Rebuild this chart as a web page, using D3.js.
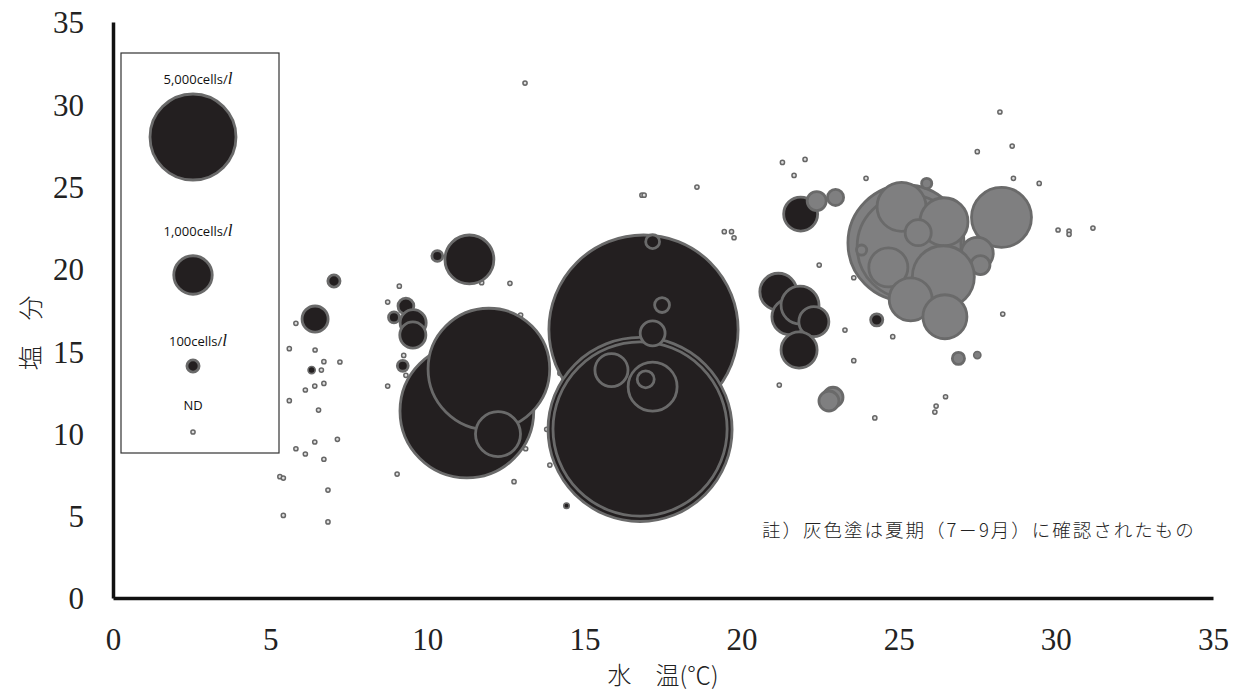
<!DOCTYPE html>
<html>
<head>
<meta charset="utf-8">
<script src="https://cdn.jsdelivr.net/npm/d3@7"></script>
<style>
  body{margin:0;background:#fff;}
  svg{display:block;}
</style>
</head>
<body>
<div id="chart"></div>
<script>
// cell counts (cells/l) by water temperature and salinity; summer=1 means gray fill (Jul-Sep)
const cellTemp=[6.43,7.03,6.32,9.32,8.94,9.55,9.54,9.22,10.32,11.34,11.26,11.96,12.25,
  16.88,16.77,16.77,17.17,17.47,17.17,15.86,17.17,16.95,14.43,
  21.88,21.17,21.54,21.86,22.3,21.83,24.3,
  25.23,25.33,25.09,26.44,25.62,28.27,27.5,27.6,24.67,26.42,25.38,26.47,25.89,23.82,26.9,27.5,22.91,22.78,22.39,22.99];
const cellSal=[16.95,19.26,13.85,17.74,17.05,16.73,15.98,14.11,20.78,20.57,11.36,13.91,9.96,
  16.31,10.24,10.27,21.65,17.8,16.08,13.85,12.84,13.29,5.61,
  23.33,18.61,17.09,17.8,16.79,15.07,16.9,
  21.57,21.35,23.77,22.86,22.2,23.13,20.94,20.23,20.09,19.52,18.15,17.09,25.19,21.14,14.56,14.76,12.2,11.97,24.12,24.34];
const cellCount=[460,100,35,170,80,460,460,80,80,1620,12100,10000,1370,
  24200,22900,20500,130,150,420,740,1620,195,20,
  780,925,880,975,610,880,100,
  9100,7300,1620,1560,460,2430,690,245,1030,2600,1250,1310,70,70,100,35,270,270,245,175];
const cellSummer=[0,0,0,0,0,0,0,0,0,0,0,0,0,
  0,0,0,0,0,0,0,0,0,0,
  0,0,0,0,0,0,0,
  1,1,1,1,1,1,1,1,1,1,1,1,1,1,1,1,1,1,1,1];

// not detected (ND) samples
const ndTemp=[5.82,5.61,6.43,6.71,7.22,6.63,6.42,6.12,6.71,5.61,6.54,6.42,7.14,5.82,6.12,6.71,5.31,5.42,6.84,5.42,6.84,
  9.11,8.74,9.25,9.32,8.74,9.04,12.63,11.73,12.97,10.43,10.43,13.51,13.13,13.8,13.9,12.76,14.22,13.11,
  19.45,19.68,19.76,17.74,17.64,17.99,18.54,16.77,16.98,17.36,18.59,13.5,18.96,19.26,16.27,16.24,14.49,15.97,15.83,16.27,15.28,15.49,15.86,
  18.58,16.83,16.9,21.3,22.02,21.67,23.96,27.5,28.61,28.65,29.47,22.47,23.57,23.29,24.81,23.57,28.31,21.2,26.49,
  28.22,30.07,30.42,30.42,31.18,24.24,26.19,26.15];
const ndSal=[16.69,15.15,15.07,14.36,14.34,13.85,12.88,12.64,13.04,11.99,11.42,9.48,9.64,9.07,8.75,8.43,7.37,7.29,6.56,5.02,4.62,
  18.95,17.98,14.74,13.53,12.88,7.53,19.12,19.16,17.19,15.35,13.85,13.99,9.07,10.25,8.08,7.07,13.65,31.29,
  22.26,22.26,21.89,21.45,20.9,20.9,20.9,20.37,20.57,20.49,19.22,14.05,13.95,13.95,14.42,13.44,13.14,12.54,11.58,11.26,8.93,8.18,5.29,
  24.97,24.48,24.48,26.47,26.65,25.68,25.5,27.12,27.46,25.5,25.19,20.23,19.46,16.28,15.88,14.42,17.25,12.94,12.23,
  29.53,22.36,22.3,22.1,22.48,10.94,11.66,11.3];

const xTicks=[0,5,10,15,20,25,30,35];
const yTicks=[0,5,10,15,20,25,30,35];
const legendCounts=[5000,1000,100];
const legendLabels=["5,000cells/","1,000cells/","100cells/"];

const w=1243, h=695;
const blackFill="#231f20", grayFill="#7f7f80", ringColor="#6a6a6a";

const xScale=d3.scaleLinear().domain([0,35]).range([113,1213]);
const yScale=d3.scaleLinear().domain([0,35]).range([598,22]);
const rScale=d3.scaleSqrt().domain([0,5000]).range([0,43]);

const svg=d3.select("#chart").append("svg").attr("width",w).attr("height",h);

const cells=cellTemp.map((t,i)=>({t:t,s:cellSal[i],n:cellCount[i],summer:cellSummer[i]}));
const nd=ndTemp.map((t,i)=>({t:t,s:ndSal[i]}));

// axes
const xAxis=d3.axisBottom(xScale).tickValues(xTicks).tickSize(0).tickPadding(30);
const yAxis=d3.axisLeft(yScale).tickValues(yTicks).tickSize(0).tickPadding(29);
const gx=svg.append("g").attr("transform","translate(0,598)").call(xAxis);
const gy=svg.append("g").attr("transform","translate(113,0)").call(yAxis);
[gx,gy].forEach(g=>{
  g.select(".domain").attr("stroke","#111").attr("stroke-width",3.5);
  g.selectAll("text").attr("fill","#222").style("font-family","'Liberation Serif','DejaVu Serif',serif").style("font-size","31px");
});
gx.selectAll("text").attr("dy","0.71em");
gy.selectAll("text").attr("dy","0.35em");

// ND points first
svg.append("g").selectAll("circle").data(nd).enter().append("circle")
  .attr("cx",d=>xScale(d.t)).attr("cy",d=>yScale(d.s)).attr("r",2.1)
  .attr("fill","#ddd").attr("stroke","#666").attr("stroke-width",1.5);

// bubbles
svg.append("g").selectAll("circle").data(cells).enter().append("circle")
  .attr("cx",d=>xScale(d.t)).attr("cy",d=>yScale(d.s)).attr("r",d=>rScale(d.n))
  .attr("fill",d=>d.summer?grayFill:blackFill)
  .attr("stroke",ringColor).attr("stroke-width",d=>rScale(d.n)<5?1.6:2.8);

// legend
const legend=svg.append("g");
legend.append("rect").attr("x",121).attr("y",53).attr("width",158).attr("height",400)
  .attr("fill","#fff").attr("stroke","#333").attr("stroke-width",1.2);
const legendY=[137,275,366];
const labelY=[84,236,346];
legendCounts.forEach((c,i)=>{
  legend.append("circle").attr("cx",193).attr("cy",legendY[i]).attr("r",rScale(c))
    .attr("fill",blackFill).attr("stroke",ringColor).attr("stroke-width",2.8);
  const t=legend.append("text").attr("x",198).attr("y",labelY[i]).attr("text-anchor","middle")
    .style("font-family","'Open Sans','Noto Sans',sans-serif").style("font-size","13px").attr("fill","#111");
  t.append("tspan").text(legendLabels[i]);
  t.append("tspan").text("l").style("font-family","'Liberation Serif',serif").style("font-style","italic").style("font-size","17px");
});
legend.append("text").attr("x",193).attr("y",410).attr("text-anchor","middle")
  .style("font-family","'Open Sans','Noto Sans',sans-serif").style("font-size","13px").attr("fill","#111").text("ND");
legend.append("circle").attr("cx",193).attr("cy",432).attr("r",2.1)
  .attr("fill","#ddd").attr("stroke","#666").attr("stroke-width",1.5);

// axis titles
const jp="'Noto Sans CJK JP','Noto Sans CJK SC',sans-serif";
svg.append("text").attr("x",663).attr("y",684).attr("text-anchor","middle")
  .style("font-family",jp).style("font-size","24px").style("font-weight","300").attr("fill","#222").text("水　温(℃)");
svg.append("text").attr("transform","translate(40,333) rotate(-90)").attr("text-anchor","middle")
  .style("font-family",jp).style("font-size","25px").style("font-weight","300").attr("fill","#222").text("塩　分");

// note
svg.append("text").attr("x",762).attr("y",537)
  .style("font-family",jp).style("font-size","18.5px").style("font-weight","300").style("letter-spacing","2px")
  .attr("fill","#222").text("註）灰色塗は夏期（7－9月）に確認されたもの");
</script>
</body>
</html>
